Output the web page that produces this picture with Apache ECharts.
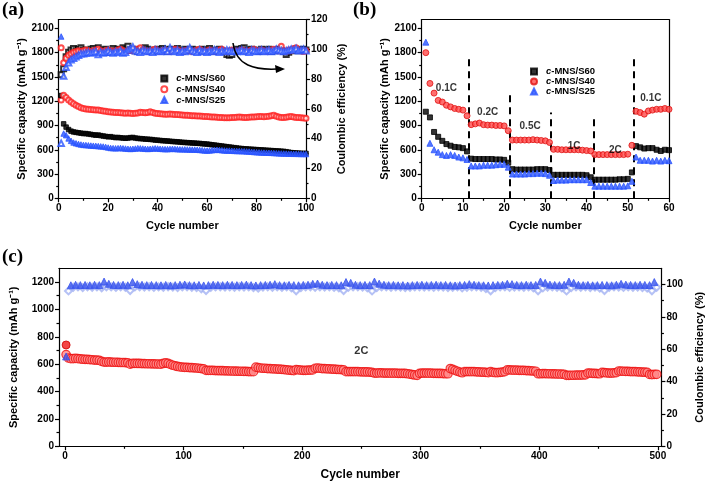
<!DOCTYPE html>
<html><head><meta charset="utf-8">
<script src="https://cdn.jsdelivr.net/npm/echarts@6/dist/echarts.min.js"></script>
<style>html,body{margin:0;padding:0;background:#fff}#c{width:713px;height:482px}</style>
</head><body><div id="c"></div>
<script>
// ---------- Panel (a): cycling at 0.1C, cycles 1..100 ----------
const capS60 = [
1270,920,880,850,830,820,815,810,805,800,
800,795,790,785,780,782,775,770,765,760,
762,755,750,752,748,745,742,745,750,752,
745,740,738,735,732,730,728,725,720,718,
715,712,710,708,705,702,700,698,695,692,
690,688,686,684,682,680,678,675,672,670,
666,662,658,654,650,646,642,638,634,630,
626,622,618,615,612,610,608,606,604,602,
600,598,596,594,592,590,588,586,584,582,
580,576,570,565,562,560,558,556,555,555];
const capS40 = [
1860,1275,1245,1215,1190,1170,1150,1135,1120,1110,
1105,1100,1098,1095,1092,1090,1085,1080,1075,1070,
1068,1065,1062,1060,1058,1055,1052,1055,1050,1048,
1050,1055,1065,1060,1058,1062,1070,1060,1052,1048,
1045,1042,1040,1040,1042,1038,1035,1035,1032,1030,
1028,1025,1022,1020,1020,1018,1016,1014,1012,1010,
1008,1006,1004,1002,1000,998,996,995,996,998,
1000,1002,1004,1002,1000,1000,1002,1004,1006,1008,
1010,1012,1008,1012,1015,1020,1025,1015,1005,1000,
998,1002,1008,1010,1005,1000,998,995,992,990];
const capS25 = [
2000,800,780,740,710,690,680,672,665,660,
658,655,652,650,648,645,642,640,635,628,
622,620,618,620,622,618,615,612,610,612,
615,620,618,615,612,610,612,615,618,615,
612,610,608,608,610,612,610,608,606,605,
605,604,603,602,602,600,598,595,592,590,
592,595,598,600,598,595,592,590,590,588,
586,585,584,583,582,580,578,575,572,570,
568,566,565,564,563,562,560,558,556,555,
554,553,552,551,550,550,549,548,548,547];
const ceS60 = [
83,87,95,98,99.5,100.5,99,100,101,99.5,
98.5,99,100,100.5,99,101,98.5,99.5,100,98,
99,100.5,99,100,99.5,101,100,102,99.5,100,
99,98.5,100,99.5,101,100,99,98.5,99.5,100,
99,100.5,99.5,98.5,100,99.5,99,100.5,99,98.5,
100,99.5,99,100,99.5,98.5,99,100,99.5,99,
100.5,99,98.5,99.5,100,99,98.5,96.5,96,96.5,
99,100,99.5,100.5,101,99.5,99,100,99.5,99,
98.5,100,99,99.5,100,98.5,99,99.5,100,99,
98.5,96.5,98,99,99.5,100,99,99.5,100,99.5];
const ceS40 = [
66,91,94,96,97,98,98.5,99,98.5,99,
99.5,99,98.5,99,99.5,100,99,98.5,99,99.5,
99,98.5,99,99.5,100,99,98.5,99,99.5,99,
100,99,101,99.5,99,98.5,99,99.5,100,99,
98.5,99,99.5,99,98.5,99,100,99.5,99,98.5,
99,99.5,99,98.5,99,99.5,100,99,98.5,99,
99.5,99,98.5,99,99.5,100,99,98.5,99,99.5,
99,98.5,99,99.5,99,98.5,99,99.5,100,99,
99,99.5,99,98.5,99,99.5,100,99.5,99,102,
99,98.5,99.5,99,100.5,101,99.5,99,98.5,99];
const ceS25 = [
37,82,88,91,93,94,95,96,97,97,
97.5,98,97.5,98,98.5,96.5,98,97.5,98,99,
98,97.5,98.5,98,99,97.5,98,99.5,100.5,101.5,
99,98.5,98,99.5,99,98.5,99,98,99.5,99,
98.5,99,100,98.5,101,99,98.5,99.5,98,99,
98.5,99.5,101,99,98.5,98,99.5,98.5,99,98,
99,98.5,99.5,99,98,99,98.5,99.5,99,98.5,
99,98.5,99,99.5,98.5,99,98,99.5,99,98.5,
99,99.5,98.5,99,99.5,98.5,99,100,99.5,99,
98.5,99,99.5,100,99.5,100.5,99,99.5,100,99];

// ---------- Panel (b): rate capability, cycles 1..60 ----------
const rateS60 = [
1070,1000,820,760,710,670,650,635,630,620,
580,490,485,485,485,485,485,480,480,475,
440,360,355,355,355,355,355,360,360,360,
350,290,290,290,290,290,290,290,290,285,
260,230,230,230,230,230,230,235,235,240,
320,645,630,615,620,620,600,585,600,595];
const rateS40 = [
1800,1420,1300,1210,1190,1150,1130,1110,1100,1090,
1020,910,920,930,910,905,905,900,900,895,
835,720,720,720,720,720,725,720,715,710,
690,605,605,600,600,600,600,600,595,590,
585,540,540,540,540,540,540,540,540,545,
655,1075,1060,1040,1080,1090,1100,1100,1110,1100];
const rateS25 = [
1930,680,600,570,540,530,540,530,510,500,
480,400,400,400,410,410,410,415,420,420,
385,300,300,300,300,305,305,310,310,305,
285,220,225,225,225,230,230,230,230,230,
195,150,150,150,150,150,150,150,150,155,
210,510,470,470,470,460,470,460,470,465];
const dividerX = [11.5, 21.3, 31.4, 41.7, 51.5];
const dividerTop = [1730, 1290, 1060, 1000, 1740];
const rateLabels = ['0.1C','0.2C','0.5C','1C','2C','0.1C'];
const rateLabelX = [6, 16, 26.3, 37, 47, 55.6];
const rateLabelY = [1356, 1069, 888, 649, 590, 1232];

// ---------- Panel (c): long cycling at 2C ----------
// capacity every 2nd cycle (1,3,5,...,499)
const longCap = [
670,645,640,640,642,640,638,636,635,635,
633,632,630,630,628,620,615,615,616,615,
614,614,613,612,612,611,610,600,605,606,
605,605,604,604,603,603,602,602,601,601,
600,605,610,605,598,592,587,583,580,578,
577,576,575,574,573,572,570,568,565,555,
555,554,554,553,553,552,552,551,551,550,
550,549,549,548,548,547,547,546,545,545,
578,575,572,570,570,568,567,566,565,564,
563,562,560,558,556,555,553,560,558,556,
555,555,556,557,558,570,572,570,568,567,
566,565,564,563,562,561,560,558,545,545,
546,546,545,545,544,544,543,543,542,540,
535,535,536,536,535,535,535,534,534,534,
533,533,533,532,530,527,524,521,518,533,
535,535,535,534,534,533,533,532,532,531,
530,530,568,562,555,548,542,537,545,546,
546,545,545,544,543,542,541,540,538,545,
540,538,538,540,542,545,558,558,557,556,
556,555,555,554,553,552,551,550,548,530,
530,531,531,530,530,529,529,528,528,527,
526,518,518,519,519,520,520,520,521,522,
535,534,533,532,531,530,540,538,536,535,
535,536,538,550,549,548,547,547,546,545,
545,544,543,542,541,540,525,524,525,526];
const firstCapC = [740];
// CE (filled triangles) every 4th cycle (1,5,9,...)
const longCE = [
55.5,99.5,99.8,99.6,99.7,99.5,99.8,99.6,101.8,100.4,
99.7,99.6,99.8,99.5,101.5,100.2,99.8,99.6,99.7,99.6,
99.5,99.7,99.4,99.6,99.8,100.0,99.6,99.5,99.7,99.4,
99.6,99.8,99.7,99.6,99.8,99.7,99.6,99.7,99.9,99.6,
99.4,99.6,99.7,99.8,100.2,99.6,99.5,99.7,99.6,99.5,
99.7,99.8,100.4,100.6,99.8,99.6,99.7,99.6,99.5,101.5,
101.0,99.8,99.6,99.7,99.6,101.8,100.5,99.8,99.6,99.7,
99.5,99.6,99.4,99.6,99.7,99.8,99.6,99.7,99.8,99.6,
99.7,99.5,99.4,99.6,99.7,100.2,99.8,99.6,99.5,99.4,
99.6,99.7,99.8,100.4,100.2,99.7,99.6,99.8,99.6,99.7,
101.8,101.0,99.9,99.7,99.6,99.8,101.8,101.0,99.8,99.6,
99.7,99.5,99.6,99.7,99.6,99.5,99.8,100.4,99.9,99.7,
99.6,99.8,99.7,99.6,101.5];
// CE (open diamonds) every 4th cycle (3,7,11,...)
const longCE2 = [
96.0,98.3,98.5,98.1,98.6,98.3,98.5,98.0,98.6,98.5,
98.2,98.6,98.3,96.3,98.5,98.6,98.4,98.6,98.2,98.5,
98.3,98.6,98.4,98.1,98.5,98.6,98.3,98.1,97.3,96.3,
98.3,98.5,98.6,98.4,98.5,98.3,98.6,98.4,98.5,98.1,
97.7,98.4,98.6,98.3,98.5,98.2,98.6,98.0,96.1,98.1,
98.5,98.6,98.3,98.5,98.4,98.6,98.2,97.9,96.3,98.3,
98.5,98.6,98.4,98.0,96.0,98.1,98.5,98.6,98.3,98.5,
98.4,98.1,98.3,98.5,98.6,98.4,98.5,98.3,98.6,98.4,
98.1,98.3,98.5,97.9,98.3,98.5,98.6,98.3,97.5,96.1,
98.1,98.5,98.6,98.2,98.4,98.5,98.3,98.6,98.0,96.1,
97.9,98.4,98.5,98.3,97.9,96.0,98.1,98.5,98.3,98.6,
98.1,98.4,97.7,96.3,98.3,98.5,98.4,98.2,98.5,98.3,
98.4,98.1,97.7,96.1,98.3];
const cLabel = {text:'2C', x:250, y:699};

// ---------- tick values ----------
const capTicks = [0,300,600,900,1200,1500,1800,2100];
const capMinor = [150,450,750,1050,1350,1650,1950];
const longXTicks = [0,100,200,300,400,500];
const longXMinor = [50,150,250,350,450];
const longYTicks = [0,200,400,600,800,1000,1200];
const longYMinor = [100,300,500,700,900,1100];
const longRTicks = [0,20,40,60,80,100];
const longRMinor = [10,30,50,70,90];

const FONT = "'Liberation Sans', Arial, sans-serif";
const RED = '#ff2020', BLUE = '#2a55ff', BLACK = '#000';
const line = {color:'#000', width:1.2};
const lbl = {color:'#000', fontSize:10, fontWeight:'bold', fontFamily:FONT, formatter:v=>String(v)};
const nm = {color:'#000', fontSize:11, fontWeight:'bold', fontFamily:FONT};
const noSplit = {show:false};

function frameAxis(grid, pos, min, max) {
  return {gridIndex:grid, type:'value', position:pos, min:min, max:max,
    axisLine:{show:true, onZero:false, lineStyle:line}, axisTick:{show:false},
    axisLabel:{show:false}, splitLine:noSplit};
}
function minorAxis(grid, pos, min, max, vals) {
  return {gridIndex:grid, type:'value', position:pos, min:min, max:max,
    axisLine:{show:false, onZero:false}, axisTick:{show:true, length:2.5, customValues:vals, lineStyle:line},
    axisLabel:{show:false}, splitLine:noSplit};
}
const capName = 'Specific capacity (mAh g\u207B\u00B9)';
const ceName = 'Coulombic efficiency (%)';

const xAxis = [
  {gridIndex:0, type:'value', position:'bottom', min:0, max:100, interval:20,
   axisLine:{show:true, onZero:false, lineStyle:line}, axisTick:{length:4, lineStyle:line},
   minorTick:{show:true, splitNumber:2, length:2.5, lineStyle:line},
   axisLabel:Object.assign({margin:5}, lbl), splitLine:noSplit, minorSplitLine:noSplit,
   name:'Cycle number', nameLocation:'middle', nameGap:22, nameTextStyle:nm},
  frameAxis(0,'top',0,100),
  {gridIndex:1, type:'value', position:'bottom', min:0, max:60, interval:10,
   axisLine:{show:true, onZero:false, lineStyle:line}, axisTick:{length:4, lineStyle:line},
   minorTick:{show:true, splitNumber:2, length:2.5, lineStyle:line},
   axisLabel:Object.assign({margin:5}, lbl), splitLine:noSplit, minorSplitLine:noSplit,
   name:'Cycle number', nameLocation:'middle', nameGap:22, nameTextStyle:nm},
  frameAxis(1,'top',0,60),
  {gridIndex:2, type:'value', position:'bottom', min:-5, max:503,
   axisLine:{show:true, onZero:false, lineStyle:line}, axisTick:{length:4, customValues:longXTicks, lineStyle:line},
   axisLabel:Object.assign({margin:5, customValues:longXTicks}, lbl), splitLine:noSplit,
   name:'Cycle number', nameLocation:'middle', nameGap:22, nameTextStyle:Object.assign({}, nm, {fontSize:12})},
  minorAxis(2,'bottom',-5,503,longXMinor),
  frameAxis(2,'top',-5,503)
];
const yAxis = [
  {gridIndex:0, type:'value', position:'left', min:0, max:2210,
   axisLine:{show:true, onZero:false, lineStyle:line}, axisTick:{length:4, customValues:capTicks, lineStyle:line},
   axisLabel:Object.assign({margin:5, customValues:capTicks}, lbl), splitLine:noSplit,
   name:capName, nameLocation:'middle', nameGap:31, nameRotate:90, nameTextStyle:nm},
  minorAxis(0,'left',0,2210,capMinor),
  {gridIndex:0, type:'value', position:'right', min:0, max:120, interval:20,
   axisLine:{show:true, onZero:false, lineStyle:line}, axisTick:{length:4, lineStyle:line},
   minorTick:{show:true, splitNumber:2, length:2.5, lineStyle:line},
   axisLabel:Object.assign({margin:5}, lbl), splitLine:noSplit, minorSplitLine:noSplit,
   name:ceName, nameLocation:'middle', nameGap:30, nameRotate:90, nameTextStyle:nm},
  {gridIndex:1, type:'value', position:'left', min:0, max:2210,
   axisLine:{show:true, onZero:false, lineStyle:line}, axisTick:{length:4, customValues:capTicks, lineStyle:line},
   axisLabel:Object.assign({margin:5, customValues:capTicks}, lbl), splitLine:noSplit,
   name:capName, nameLocation:'middle', nameGap:31, nameRotate:90, nameTextStyle:nm},
  minorAxis(1,'left',0,2210,capMinor),
  frameAxis(1,'right',0,2210),
  {gridIndex:2, type:'value', position:'left', min:0, max:1300,
   axisLine:{show:true, onZero:false, lineStyle:line}, axisTick:{length:4, customValues:longYTicks, lineStyle:line},
   axisLabel:Object.assign({margin:5, customValues:longYTicks}, lbl), splitLine:noSplit,
   name:capName, nameLocation:'middle', nameGap:40, nameRotate:90, nameTextStyle:nm},
  minorAxis(2,'left',0,1300,longYMinor),
  {gridIndex:2, type:'value', position:'right', min:0, max:110,
   axisLine:{show:true, onZero:false, lineStyle:line}, axisTick:{length:4, customValues:longRTicks, lineStyle:line},
   axisLabel:Object.assign({margin:5, customValues:longRTicks}, lbl), splitLine:noSplit,
   name:ceName, nameLocation:'middle', nameGap:26, nameRotate:90, nameTextStyle:nm},
  minorAxis(2,'right',0,110,longRMinor)
];

const idx = (arr, start, step) => arr.map((v,i)=>[start + i*step, v]);
function sc(name, xi, yi, data, symbol, size, color, extra) {
  return Object.assign({type:'scatter', name:name, xAxisIndex:xi, yAxisIndex:yi, data:data,
    symbol:symbol, symbolSize:size, itemStyle:{color:color, borderColor:color, borderWidth:1}, z:3}, extra||{});
}

const series = [
  // (a)
  sc('ce60', 0, 2, idx(ceS60,1,1), 'emptyRect', 5, BLACK),
  sc('ce40', 0, 2, idx(ceS40,1,1), 'emptyCircle', 5, RED),
  sc('ce25', 0, 2, idx(ceS25,1,1), 'emptyTriangle', 5.5, BLUE),
  sc('a60', 0, 0, idx(capS60,1,1), 'rect', 4.5, BLACK),
  sc('a40', 0, 0, idx(capS40,1,1), 'emptyCircle', 5, RED),
  sc('a25', 0, 0, idx(capS25,1,1), 'triangle', 5.5, BLUE),
  // (b)
  {type:'lines', coordinateSystem:'cartesian2d', xAxisIndex:2, yAxisIndex:3, silent:true,
   data:dividerX.map((x,i)=>({coords:[[x,0],[x,dividerTop[i]]]})),
   lineStyle:{color:'#000', width:2, type:[7,5], opacity:1}, z:2},
  sc('b60', 2, 3, idx(rateS60,1,1), 'rect', 5, BLACK),
  sc('b40', 2, 3, idx(rateS40,1,1), 'circle', 6, RED, {itemStyle:{color:'#ff4a4a', borderColor:'#e01010', borderWidth:1}}),
  sc('b25', 2, 3, idx(rateS25,1,1), 'triangle', 6, BLUE),
  {type:'scatter', xAxisIndex:2, yAxisIndex:3, silent:true, symbolSize:1,
   itemStyle:{color:'rgba(0,0,0,0)'},
   data:rateLabelX.map((x,i)=>[x, rateLabelY[i]]),
   label:{show:true, position:'inside', formatter:p=>rateLabels[p.dataIndex],
     color:'#000', fontSize:10, fontWeight:'bold', fontFamily:FONT}, z:5},
  // (c)
  sc('c40', 4, 6, idx(longCap,1,2), 'circle', 8.5, RED, {itemStyle:{color:'#ff8a8a', borderColor:'#ee1111', borderWidth:1.2}}),
  sc('c40first', 4, 6, idx(firstCapC,1,1), 'circle', 8, RED, {itemStyle:{color:'#f01818', borderColor:'#d00000', borderWidth:1}}),
  sc('cce2', 4, 8, idx(longCE2,3,4), 'emptyDiamond', 7, '#a3b2f2'),
  sc('cce', 4, 8, idx(longCE,1,4), 'triangle', 7, '#3a55ee'),
  {type:'scatter', xAxisIndex:4, yAxisIndex:6, silent:true, symbolSize:1,
   itemStyle:{color:'rgba(0,0,0,0)'}, data:[[cLabel.x, cLabel.y]],
   label:{show:true, position:'inside', formatter:cLabel.text,
     color:'#000', fontSize:11, fontWeight:'bold', fontFamily:FONT}, z:5}
];

const legendNames = {a60:'S60', a40:'S40', a25:'S25', b60:'S60', b40:'S40', b25:'S25'};
function legend(left, top, names, icons, lh) {
  return {orient:'vertical', left:left, top:top, itemWidth:6, itemHeight:6, itemGap:0,
    selectedMode:false, padding:0,
    data:names.map((n,i)=>({name:n, icon:icons[i]})),
    formatter:n=>'{i|c}-MNS/' + legendNames[n],
    textStyle:{color:'#000', fontSize:9.5, fontWeight:'bold', fontFamily:FONT, lineHeight:lh,
      rich:{i:{fontStyle:'italic', fontWeight:'bold', fontSize:9.5, fontFamily:FONT, lineHeight:lh, padding:[0,0,0,4]}}}};
}

const chart = echarts.init(document.getElementById('c'), null, {renderer:'canvas'});
chart.setOption({
  animation:false,
  backgroundColor:'#fff',
  grid:[
    {left:58.7, top:19.5, width:247.3, height:178.8},
    {left:421.7, top:19.5, width:247.3, height:178.8},
    {left:58.3, top:268.3, width:613.7, height:178}
  ],
  xAxis:xAxis, yAxis:yAxis, series:series,
  legend:[
    legend(160.3, 73, ['a60','a40','a25'], ['rect','emptyCircle','triangle'], 10.8),
    legend(530, 66.5, ['b60','b40','b25'], ['rect','circle','triangle'], 10)
  ],
  graphic:[
    {type:'text', left:2, top:1, style:{text:'(a)', font:"bold 19px 'Liberation Serif', 'Times New Roman', serif", fill:'#000'}},
    {type:'text', left:353, top:1, style:{text:'(b)', font:"bold 19px 'Liberation Serif', 'Times New Roman', serif", fill:'#000'}},
    {type:'text', left:2, top:248, style:{text:'(c)', font:"bold 19px 'Liberation Serif', 'Times New Roman', serif", fill:'#000'}},
    {type:'bezierCurve', shape:{x1:233, y1:43, cpx1:236, cpy1:66, cpx2:255, cpy2:70, x2:277, y2:69},
     style:{stroke:'#000', lineWidth:1.5, fill:null}, z:10},
    {type:'polygon', shape:{points:[[285,69],[275,65],[276,73]]}, style:{fill:'#000'}, z:10}
  ]
});
</script></body></html>
